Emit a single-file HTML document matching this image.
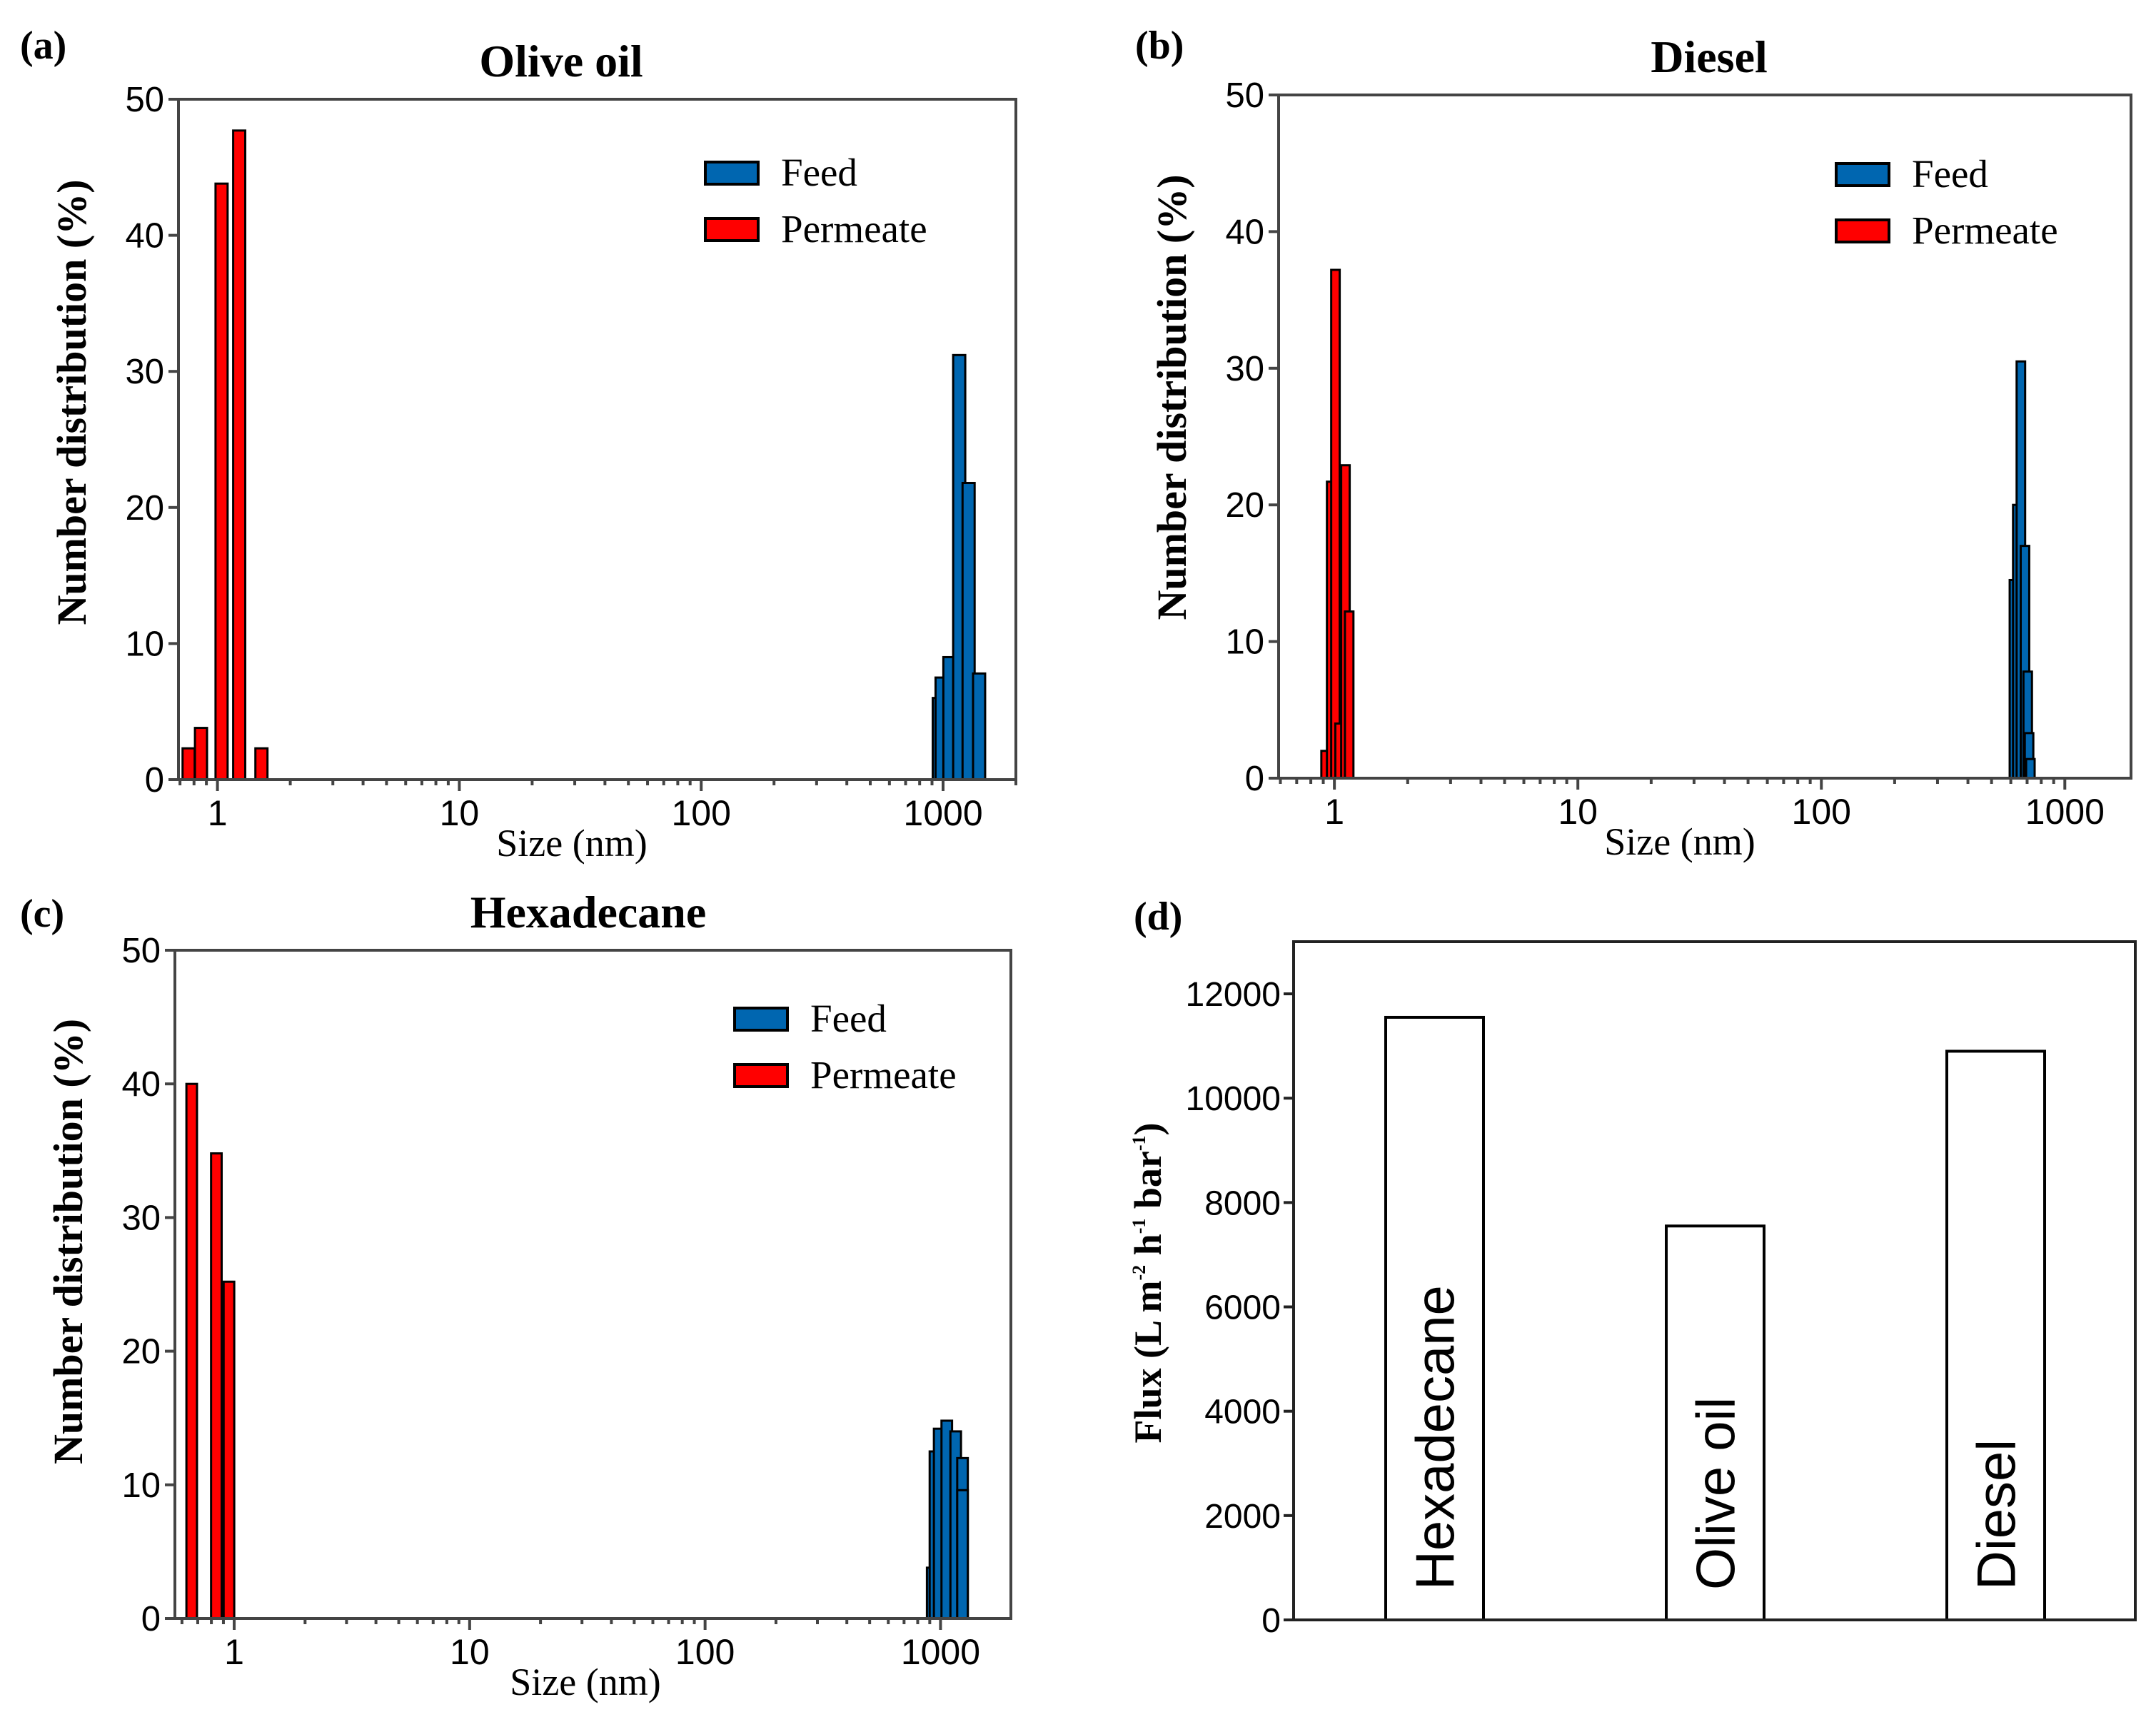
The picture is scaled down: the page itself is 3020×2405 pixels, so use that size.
<!DOCTYPE html>
<html><head><meta charset="utf-8"><style>
html,body{margin:0;padding:0;background:#fff}
svg{display:block}
</style></head><body>
<svg id="fig" width="3020" height="2405" viewBox="0 0 3020 2405" xmlns="http://www.w3.org/2000/svg"></svg>
<script>
// ---- Panel (a) Olive oil ----
const aFeedSizes=[960,986,1062,1166,1275,1409];
const aFeedVals=[6,7.5,9,31.2,21.8,7.8];
const aPermSizes=[0.76,0.855,1.04,1.23,1.52];
const aPermVals=[2.3,3.8,43.8,47.7,2.3];
// ---- Panel (b) Diesel ----
const bFeedSizes=[618,638,660,686,704,713,722];
const bFeedVals=[14.5,20,30.5,17,7.8,3.3,1.4];
const bPermSizes=[0.92,0.97,1.01,1.05,1.11,1.15];
const bPermVals=[2,21.7,37.2,4,22.9,12.2];
// ---- Panel (c) Hexadecane ----
const cFeedSizes=[922,947,987,1063,1160,1240,1240];
const cFeedVals=[3.8,12.5,14.2,14.8,14,12,9.6];
const cPermSizes=[0.66,0.84,0.95];
const cPermVals=[40,34.8,25.2];
// ---- Panel (d) Flux ----
const fluxCats=["Hexadecane","Olive oil","Diesel"];
const fluxVals=[11550,7550,10900];
const fluxTicks=[0,2000,4000,6000,8000,10000,12000];
const pctTicks=[0,10,20,30,40,50];
const sizeTicks=[1,10,100,1000];

const NS="http://www.w3.org/2000/svg";
const svg=document.getElementById('fig');
function mk(tag,attrs,parent,text){
  const e=document.createElementNS(NS,tag);
  for(const k in attrs)e.setAttribute(k,attrs[k]);
  if(text!==undefined)e.textContent=text;
  (parent||svg).appendChild(e);return e;
}
const SERIF='"Liberation Serif", serif', SANS='"Liberation Sans", sans-serif';

function histPanel(cfg){
  const g=mk('g',{});
  
  
  const L=cfg.l,R=cfg.r,T=cfg.t,B=cfg.b;
  const lx0=Math.log10(cfg.xmin),lx1=Math.log10(cfg.xmax);
  const X=v=>L+(Math.log10(v)-lx0)/(lx1-lx0)*(R-L);
  const Y=v=>B-(v/50)*(B-T);
  const bw=cfg.bw;
  function bars(sizes,vals,color,nm){
    for(let i=0;i<sizes.length;i++){
      const c=Math.log10(sizes[i]);
      const x0=L+(c-bw/2-lx0)/(lx1-lx0)*(R-L), x1=L+(c+bw/2-lx0)/(lx1-lx0)*(R-L);
      const r=mk('rect',{x:x0,y:Y(vals[i]),width:x1-x0,height:B-Y(vals[i]),fill:color,stroke:'#000','stroke-width':3},g);
      
      
    }
  }
  bars(cfg.ps,cfg.pv,'#ff0000','permeate');
  bars(cfg.fs,cfg.fv,'#0066b0','feed');
  const fr=mk('rect',{x:L,y:T,width:R-L,height:B-T,fill:'none',stroke:'#444','stroke-width':4},g);
  
  
  pctTicks.forEach(v=>{
    mk('line',{x1:L-14,x2:L,y1:Y(v),y2:Y(v),stroke:'#444','stroke-width':4},g);
    const t=mk('text',{x:L-20,y:Y(v)+17,'text-anchor':'end','font-family':SANS,'font-size':49},g,v);
    
    
  });
  for(let d=-1;d<=3;d++){for(let m=1;m<10;m++){const v=m*Math.pow(10,d);if(v<cfg.xmin||v>cfg.xmax)continue;
    mk('line',{x1:X(v),x2:X(v),y1:B,y2:B+(m===1?16:8),stroke:'#444','stroke-width':4},g);}}
  sizeTicks.forEach(v=>{
    const t=mk('text',{x:X(v),y:B+64,'text-anchor':'middle','font-family':SANS,'font-size':50},g,v);
    
    
  });
  const xt=mk('text',{x:cfg.xlx,y:B+107,'text-anchor':'middle','font-family':SERIF,'font-size':54},g,'Size (nm)');
  
  
  const yt=mk('text',{x:0,y:0,transform:`translate(${L-130},${(T+B)/2+cfg.yto}) rotate(-90)`,'text-anchor':'middle','font-family':SERIF,'font-weight':'bold','font-size':58},g,'Number distribution (%)');
  
  
  const tt=mk('text',{x:cfg.tx,y:T-32,'text-anchor':'middle','font-family':SERIF,'font-weight':'bold','font-size':64},g,cfg.title);
  
  
  const pl=mk('text',{x:cfg.lbx,y:cfg.lby,'font-family':SERIF,'font-weight':'bold','font-size':56},g,cfg.label);
  
  
  [['Feed','#0066b0',0],['Permeate','#ff0000',79]].forEach(([n,c,dy])=>{
    const le=mk('g',{},g);
    
    
    mk('rect',{x:cfg.lgx,y:cfg.lgy+dy,width:74,height:31,fill:c,stroke:'#000','stroke-width':4},le);
    mk('text',{x:cfg.lgx+106,y:cfg.lgy+dy+33,'font-family':SERIF,'font-size':55},le,n);
  });
}
histPanel({name:'panel-a-olive-oil',l:250,r:1423,t:139,b:1092,xmin:0.69,xmax:2000,bw:0.05,
  fs:aFeedSizes,fv:aFeedVals,ps:aPermSizes,pv:aPermVals,title:'Olive oil',tx:786,label:'(a)',lbx:28,lby:82,
  lgx:988,lgy:227,xlx:801,yto:-52});
histPanel({name:'panel-b-diesel',l:1791,r:2985,t:133,b:1090,xmin:0.59,xmax:1870,bw:0.035,
  fs:bFeedSizes,fv:bFeedVals,ps:bPermSizes,pv:bPermVals,title:'Diesel',tx:2394,label:'(b)',lbx:1590,lby:82,
  lgx:2572,lgy:229,xlx:2353,yto:-55});
histPanel({name:'panel-c-hexadecane',l:245,r:1416,t:1331,b:2267,xmin:0.56,xmax:1990,bw:0.045,
  fs:cFeedSizes,fv:cFeedVals,ps:cPermSizes,pv:cPermVals,title:'Hexadecane',tx:824,label:'(c)',lbx:28,lby:1298,
  lgx:1029,lgy:1412,xlx:820,yto:-60});

(function(){
  const g=mk('g',{});
  
  
  const L=1812,R=2991,T=1319,B=2269;
  const Y=v=>B-(v/13000)*(B-T);
  fluxCats.forEach((c,i)=>{
    const x0=1941+i*393, w=137;
    const r=mk('rect',{x:x0,y:Y(fluxVals[i]),width:w,height:B-Y(fluxVals[i]),fill:'#fff',stroke:'#000','stroke-width':4},g);
    
    
    const t=mk('text',{x:0,y:0,transform:`translate(${x0+w/2+27},${B-42}) rotate(-90)`,'font-family':SANS,'font-size':76},g,c);
    
    
  });
  const fr=mk('rect',{x:L,y:T,width:R-L,height:B-T,fill:'none',stroke:'#222','stroke-width':4},g);
  
  
  fluxTicks.forEach(v=>{
    mk('line',{x1:L-14,x2:L,y1:Y(v),y2:Y(v),stroke:'#222','stroke-width':4},g);
    const t=mk('text',{x:L-18,y:Y(v)+17,'text-anchor':'end','font-family':SANS,'font-size':48},g,v);
    
    
  });
  const yt=mk('text',{x:0,y:0,transform:`translate(1626,${(T+B)/2+3}) rotate(-90)`,'text-anchor':'middle','font-family':SERIF,'font-weight':'bold','font-size':54},g);
  
  
  yt.innerHTML='Flux (L m<tspan font-size="26" dy="-22">-2</tspan><tspan dy="22"> h</tspan><tspan font-size="26" dy="-22">-1</tspan><tspan dy="22"> bar</tspan><tspan font-size="26" dy="-22">-1</tspan><tspan dy="22">)</tspan>';
  const pl=mk('text',{x:1588,y:1302,'font-family':SERIF,'font-weight':'bold','font-size':56},g,'(d)');
  
  
})();
</script>
</body></html>
